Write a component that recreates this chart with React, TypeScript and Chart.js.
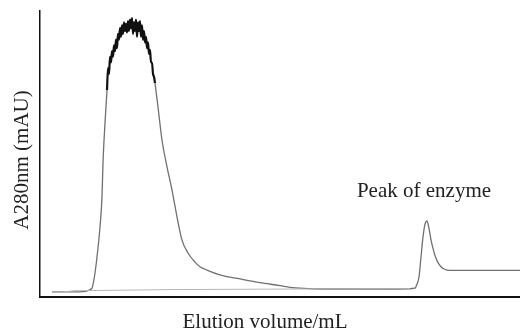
import React, { useEffect, useRef } from "react";
import { Chart, registerables } from "chart.js";

Chart.register(...registerables);

// Elution volume (mL) and absorbance (mAU) of the main trace
const mainVolume = [
  3, 7.5, 11.5, 12.5, 13, 13.6, 14.25, 15, 15.5, 15.75, 16.25, 16.75,
  17, 17.25, 17.5, 17.75, 18, 18.25, 18.5, 18.75, 19, 19.25, 19.5, 19.75,
  20, 20.25, 20.5, 20.75, 21, 21.25, 21.5, 21.75, 22, 22.25, 22.5, 22.75,
  23, 23.25, 23.5, 23.75, 24, 24.25, 24.5, 24.75, 25, 25.25, 25.5, 25.75,
  26, 26.25, 26.5, 26.75, 27, 27.25, 27.5, 27.75, 28, 28.25, 28.5, 28.75,
  29.5, 30.5, 31.75, 33, 34.25, 35.5, 37, 38.75, 40, 41.75, 45, 50, 55, 60,
  62.5, 66, 70, 80, 90, 93.75, 94.25, 94.75, 95.25, 95.75, 96.25, 96.75,
  97.25, 97.75, 98.25, 98.75, 99.5, 100.25, 101, 102.5, 110, 120,
];
const mainAbs = [
  1.8, 1.8, 2.0, 2.6, 3.1, 7, 14, 24.5, 35, 46.9, 60.8, 72.4,
  80, 78, 84, 82, 86, 84, 88, 86, 90, 87, 92, 90,
  94, 91, 95, 92, 96, 93, 95.5, 92.5, 96.5, 93, 97, 94,
  97.5, 92, 96, 93, 97, 91, 96, 93, 96.5, 91, 95, 90,
  93, 89, 91, 87, 89, 85, 86.4, 82, 82, 78, 77, 74.8,
  66.4, 54.9, 45.5, 37.4, 28, 19.9, 15.4, 12.2, 10.6, 9.4, 7.7, 6.3, 5.0, 4.0,
  3.4, 3.0, 2.8, 2.8, 2.8, 3.1, 4.5, 7, 14, 21, 25.5, 26.6,
  24, 20, 17, 14.5, 12, 10.6, 9.8, 9.3, 9.3, 9.3,
];

// Faint baseline trace
const baseVolume = [3, 5.5, 8.75, 33.25, 65, 92.5];
const baseAbs = [1.75, 1.75, 2.2, 2.6, 2.8, 2.9];

const xTitle = "Elution volume/mL";
const yTitle = "A280nm (mAU)";
const peakLabel = "Peak of enzyme";
const peakLabelVolume = 96;
const peakLabelAbs = 35;

const textPlugin = {
  id: "texts",
  afterDraw(chart: any) {
    const ctx = chart.ctx;
    const xs = chart.scales.x;
    const ys = chart.scales.y;
    ctx.save();
    ctx.fillStyle = "#222";
    ctx.font = "21px 'Liberation Serif', serif";
    ctx.textAlign = "center";
    ctx.textBaseline = "alphabetic";
    ctx.fillText(peakLabel, xs.getPixelForValue(peakLabelVolume), ys.getPixelForValue(peakLabelAbs));
    ctx.fillText(xTitle, 265, 328);
    ctx.textBaseline = "middle";
    ctx.translate(22, 160);
    ctx.rotate(-Math.PI / 2);
    ctx.fillText(yTitle, 0, 0);
    ctx.restore();
  },
};

export default function App() {
  const ref = useRef<HTMLCanvasElement>(null);
  useEffect(() => {
    document.body.style.margin = "0";
    const chart = new Chart(ref.current!, {
      type: "line",
      data: {
        datasets: [
          {
            data: baseVolume.map((v, i) => ({ x: v, y: baseAbs[i] })),
            borderColor: "#b5b5b5",
            borderWidth: 1,
            pointRadius: 0,
            tension: 0,
          },
          {
            data: mainVolume.map((v, i) => ({ x: v, y: mainAbs[i] })),
            borderColor: "#707070",
            borderWidth: 1.3,
            pointRadius: 0,
            cubicInterpolationMode: "monotone",
            segment: {
              borderColor: (c: any) => (c.p0.parsed.y > 76 || c.p1.parsed.y > 76 ? "#111" : undefined),
              borderWidth: (c: any) => (c.p0.parsed.y > 76 || c.p1.parsed.y > 76 ? 2.2 : undefined),
            },
          },
        ],
      },
      options: {
        animation: false,
        responsive: false,
        layout: { padding: { left: 40, top: 11, right: 0, bottom: 34 } },
        plugins: { legend: { display: false }, tooltip: { enabled: false } },
        scales: {
          x: {
            type: "linear",
            min: 0,
            max: 120,
            ticks: { display: false },
            grid: { display: false, drawTicks: false },
            border: { display: true, color: "#111", width: 2 },
          },
          y: {
            min: 0,
            max: 100,
            ticks: { display: false },
            grid: { display: false, drawTicks: false },
            border: { display: true, color: "#111", width: 1.5 },
          },
        },
      },
      plugins: [textPlugin],
    });
    return () => chart.destroy();
  }, []);
  return (
    <div style={{ position: "absolute", left: 0, top: 0, width: 520, height: 331 }}>
      <canvas ref={ref} width={520} height={331} />
    </div>
  );
}
